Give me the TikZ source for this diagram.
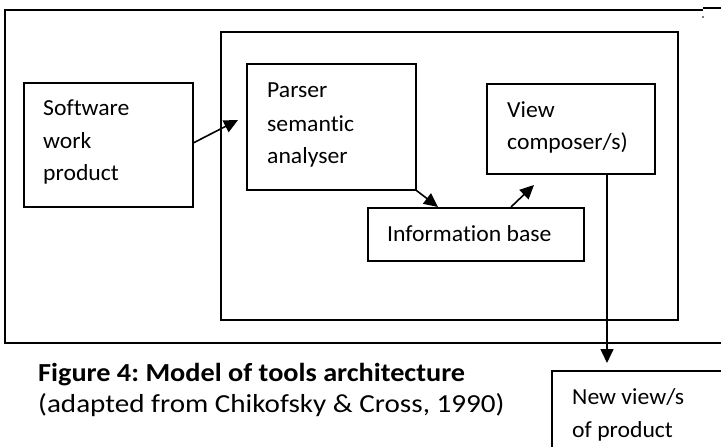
\documentclass[tikz,border=0pt]{standalone}
\usepackage{fontspec}
\setmainfont{Carlito}[FakeStretch=1.03,Ligatures=NoCommon]
\newfontfamily\capregular{Carlito}[FakeStretch=1.12,Ligatures=NoCommon]
\newfontfamily\capbold{Carlito Bold}[FakeStretch=1.087,Ligatures=NoCommon]
\usetikzlibrary{arrows.meta}
\begin{document}
\frenchspacing
\begin{tikzpicture}[x=1pt,y=-1pt,
  boxline/.style={line width=1.6pt},
  box/.style={draw,line width=1.6pt,inner sep=0pt,anchor=north west},
  txt/.style={anchor=base west,inner sep=0pt,font=\fontsize{23}{27}\selectfont},
  captxt/.style={anchor=base west,inner sep=0pt},
  arr/.style={line width=1.6pt,-{Triangle[length=14pt,width=13pt]}}]
\useasboundingbox (0,0) rectangle (721,447);
% outer frame
\draw[boxline] (721,343) -- (5,343) -- (5,10) -- (703,10);
\draw[boxline] (703,8) -- (721,8);
\fill (703,17) circle (0.8);
% inner frame
\draw[boxline] (221,32) rectangle (678,320);
% boxes
\node[box,minimum width=169pt,minimum height=124pt] (sw) at (23,82) {};
\node[box,minimum width=169pt,minimum height=126pt] (pa) at (246,63) {};
\node[box,minimum width=168pt,minimum height=90pt] (vc) at (486,83) {};
\node[box,minimum width=216pt,minimum height=53pt] (ib) at (367,207) {};
\node[box,minimum width=200pt,minimum height=100pt] (nv) at (551,370) {};
% texts
\node[txt] (sw1) at (43,115) {Software};
\node[txt] (sw2) at (43,148) {work};
\node[txt] (sw3) at (43,180) {product};
\node[txt] (pa1) at (267,97) {Parser};
\node[txt] (pa2) at (267,131) {semantic};
\node[txt] (pa3) at (267,163) {analyser};
\node[txt] (vc1) at (507,117) {View};
\node[txt] (vc2) at (507,149) {composer/s)};
\node[txt] (ib1) at (387,241) {Information base};
\node[txt] (nv1) at (572,404) {New view/s};
\node[txt] (nv2) at (572,437) {of product};
\node[captxt,font=\capbold\fontsize{26}{30}\selectfont] (c1) at (38,381) {Figure 4: Model of tools architecture};
\node[captxt,font=\capregular\fontsize{26}{30}\selectfont] (c2) at (38,412) {(adapted from Chikofsky \& Cross, 1990)};
% connectors
\coordinate (t1) at (238,120);
\coordinate (t3) at (534,185);
\coordinate (t4) at (607,363);
\draw[arr] ([yshift=2pt]sw.east) -- (t1);
\draw[arr] (pa.south east) -- ([xshift=71pt]ib.north west);
\draw[arr] ([xshift=144pt]ib.north west) -- (t3);
\draw[arr] ([xshift=121pt]vc.south west) -- (t4);
\end{tikzpicture}
\end{document}
